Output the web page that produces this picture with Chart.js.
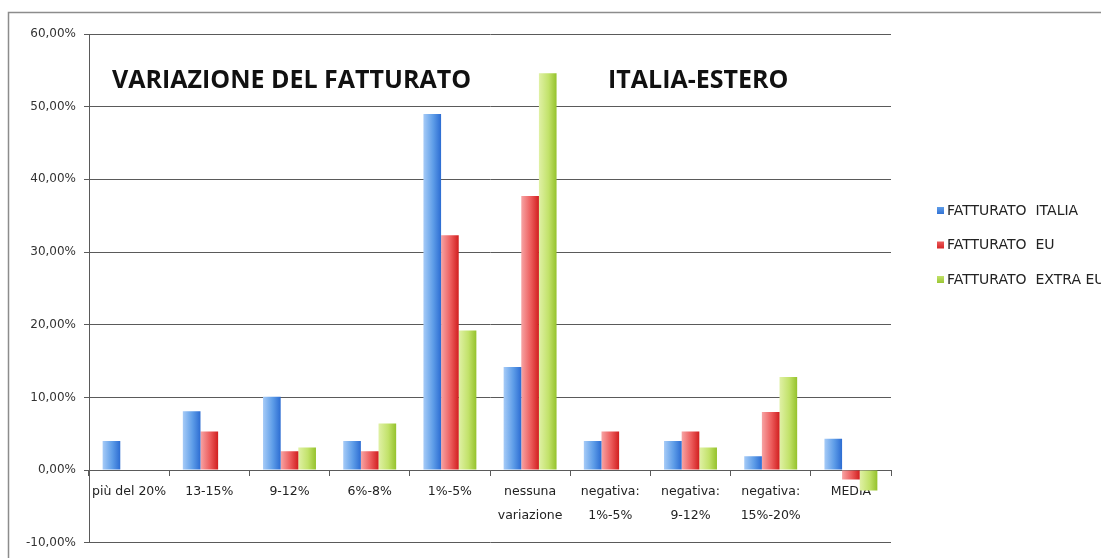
<!DOCTYPE html>
<html lang="it">
<head>
<meta charset="utf-8">
<title>Variazione del fatturato Italia-Estero</title>
<script src="https://cdn.jsdelivr.net/npm/chart.js@4.4.1/dist/chart.umd.min.js"></script>
<style>
  html, body { margin: 0; padding: 0; background: #fff; overflow: hidden; }
  #wrap { width: 1101px; height: 558px; position: relative; }
</style>
</head>
<body>
<div id="wrap"><canvas id="chart" width="1101" height="558"></canvas></div>
<script>
// Categories (x axis)
const categories = [
  'più del 20%',
  '13-15%',
  '9-12%',
  '6%-8%',
  '1%-5%',
  ['nessuna', 'variazione'],
  ['negativa:', '1%-5%'],
  ['negativa:', '9-12%'],
  ['negativa:', '15%-20%'],
  'MEDIA'
];

// Series values, in percent
const fatturatoItalia = [4.0, 8.1, 10.1, 4.0, 49.0, 14.2, 4.0, 4.0, 1.9, 4.3];
const fatturatoEU = [0, 5.3, 2.6, 2.6, 32.3, 37.7, 5.3, 5.3, 8.0, -1.3];
const fatturatoExtraEU = [0, 0, 3.1, 6.4, 19.2, 54.6, 0, 3.1, 12.8, -2.8];

const seriesLabels = ['FATTURATO  ITALIA', 'FATTURATO  EU', 'FATTURATO  EXTRA EU'];

// Y axis range
const yMin = -10;
const yMax = 60;
const yStep = 10;

const titleLeft = 'VARIAZIONE DEL FATTURATO';
const titleRight = 'ITALIA-ESTERO';

const CAT_PCT = 0.66;
const LABEL_FONT = '"DejaVu Sans", sans-serif';
const AXIS_COLOR = '#5a5a5a';

const palette = [
  { light: '#a6cbf7', mid: '#5e9de8', dark: '#2c6cd2' },
  { light: '#f7a4a4', mid: '#ec5b5b', dark: '#d11f1f' },
  { light: '#e0f1a6', mid: '#c2e26a', dark: '#95c22c' }
];

// Horizontal gradient per bar, built from the bar's position on the x scale
function barFill(colors) {
  return (ctx) => {
    const chart = ctx.chart;
    const x = chart.scales.x;
    if (ctx.type !== 'data' || !x || !chart.chartArea) return colors.mid;
    const catW = x.width / categories.length;
    const barW = catW * CAT_PCT / 3;
    const left = x.getPixelForValue(ctx.dataIndex) - catW * CAT_PCT / 2 + ctx.datasetIndex * barW;
    if (!isFinite(left)) return colors.mid;
    const g = chart.ctx.createLinearGradient(left, 0, left + barW, 0);
    g.addColorStop(0, colors.light);
    g.addColorStop(0.55, colors.mid);
    g.addColorStop(1, colors.dark);
    return g;
  };
}

// Outer frame, the two-part heading and the legend on the right
const decorations = {
  id: 'decorations',
  beforeDraw(chart) {
    const c = chart.ctx;
    c.save();
    c.fillStyle = '#fff';
    c.fillRect(0, 0, chart.width, chart.height);
    c.beginPath();
    c.moveTo(8.5, chart.height);
    c.lineTo(8.5, 12.5);
    c.lineTo(chart.width, 12.5);
    c.strokeStyle = '#8c8c8c';
    c.lineWidth = 1.5;
    c.stroke();
    c.restore();
  },
  afterDatasetsDraw(chart) {
    const c = chart.ctx;
    const area = chart.chartArea;
    c.save();
    c.fillStyle = '#111';
    c.font = 'bold 25px "Open Sans"';
    c.textBaseline = 'alphabetic';
    c.fillText(titleLeft, area.left + 23, 88);
    c.fillText(titleRight, area.left + 519, 88);

    c.font = '14px ' + LABEL_FONT;
    c.textBaseline = 'middle';
    seriesLabels.forEach((label, i) => {
      const y = 211 + i * 34.5;
      const bx = area.right + 46;
      const g = c.createLinearGradient(bx, y - 4, bx, y + 4);
      g.addColorStop(0, palette[i].mid);
      g.addColorStop(1, palette[i].dark);
      c.fillStyle = g;
      c.fillRect(bx, y - 4, 7, 7);
      c.fillStyle = '#222';
      c.fillText(label, bx + 10, y);
    });
    c.restore();
  }
};

const data = {
  labels: categories,
  datasets: [fatturatoItalia, fatturatoEU, fatturatoExtraEU].map((values, i) => ({
    label: seriesLabels[i],
    data: values,
    backgroundColor: barFill(palette[i]),
    categoryPercentage: CAT_PCT,
    barPercentage: 1.0
  }))
};

new Chart(document.getElementById('chart'), {
  type: 'bar',
  data: data,
  plugins: [decorations],
  options: {
    responsive: false,
    animation: false,
    events: [],
    layout: { padding: { left: 0, right: 210, top: 34, bottom: 13 } },
    plugins: {
      legend: { display: false },
      tooltip: { enabled: false }
    },
    scales: {
      x: {
        position: { y: 0 },
        grid: { offset: true, drawOnChartArea: false, tickLength: 5, color: AXIS_COLOR },
        border: { display: true, color: AXIS_COLOR, width: 1 },
        ticks: {
          color: '#222',
          font: { family: LABEL_FONT, size: 12.5, lineHeight: 1.9 },
          padding: 5,
          maxRotation: 0,
          autoSkip: false
        }
      },
      y: {
        min: yMin,
        max: yMax,
        afterFit(scale) { scale.width = 89; },
        grid: { color: AXIS_COLOR, tickLength: 5 },
        border: { display: true, color: AXIS_COLOR, width: 1 },
        ticks: {
          stepSize: yStep,
          color: '#333',
          padding: 8,
          font: { family: LABEL_FONT, size: 12 },
          callback: v => v.toFixed(2).replace('.', ',') + '%'
        }
      }
    }
  }
});
</script>
</body>
</html>
